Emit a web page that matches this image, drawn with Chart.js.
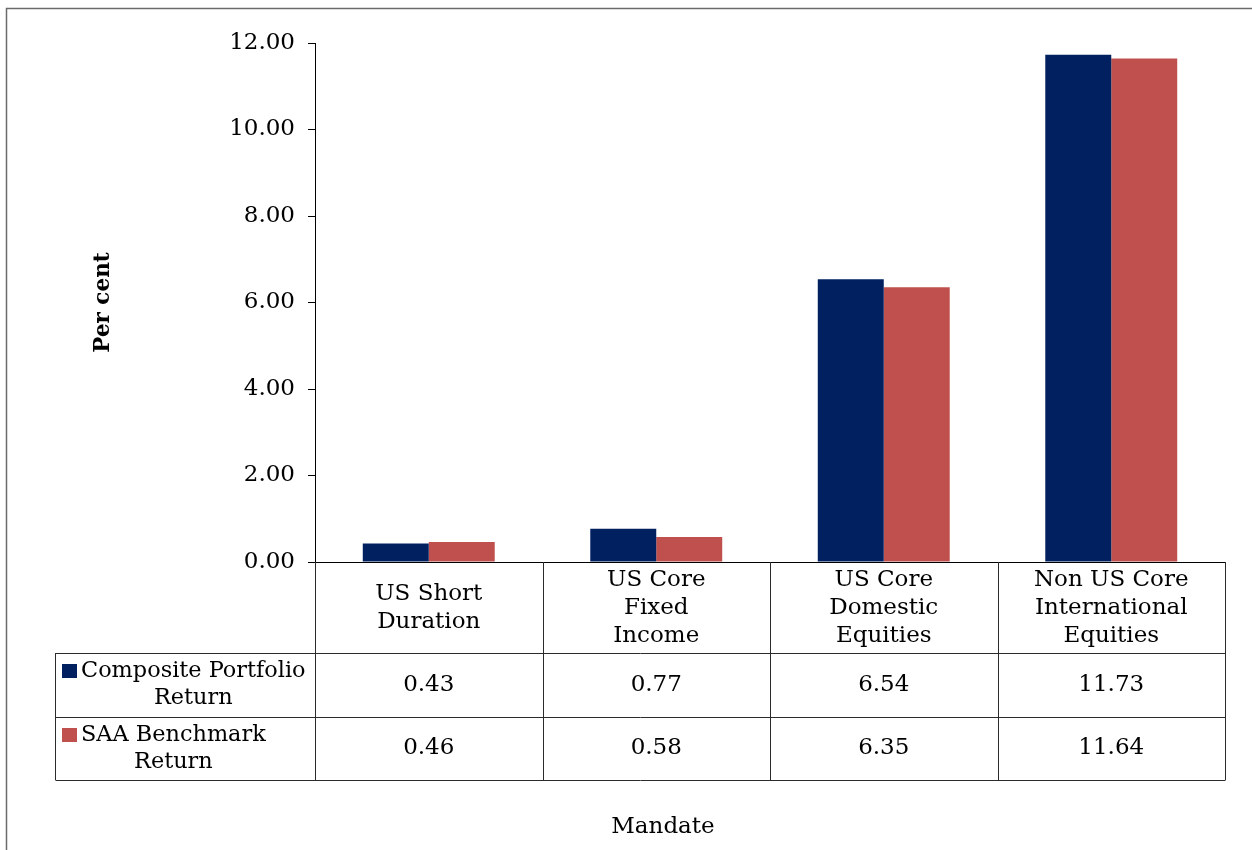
<!DOCTYPE html>
<html>
<head>
<meta charset="utf-8">
<title>Mandate returns</title>
<script src="https://cdn.jsdelivr.net/npm/chart.js@4/dist/chart.umd.min.js"></script>
<style>
  html, body { margin: 0; padding: 0; background: #fff; }
  #wrap { width: 1252px; height: 850px; }
</style>
</head>
<body>
<div id="wrap"><canvas id="c" width="1252" height="850"></canvas></div>
<script>
// Mandates (category labels, already split into display lines)
const categories = [
  ['US Short', 'Duration'],
  ['US Core', 'Fixed', 'Income'],
  ['US Core', 'Domestic', 'Equities'],
  ['Non US Core', 'International', 'Equities']
];
const seriesNames = ['Composite Portfolio Return', 'SAA Benchmark Return'];
const compositeReturn = [0.43, 0.77, 6.54, 11.73];
const benchmarkReturn = [0.46, 0.58, 6.35, 11.64];
const yTicks = [0, 2, 4, 6, 8, 10, 12];
const xTitle = 'Mandate';
const yTitle = 'Per cent';

const seriesColors = ['#002060', '#C0504D'];
const FONT = 'DejaVu Serif';
const TEXT_SIZE = 23;
Chart.defaults.font.family = FONT;
Chart.defaults.color = '#000';

// Frame around the chart (top and left edges)
const framePlugin = {
  id: 'frame',
  beforeDraw(chart) {
    const ctx = chart.ctx;
    ctx.save();
    ctx.fillStyle = '#fff';
    ctx.fillRect(0, 0, chart.width, chart.height);
    ctx.strokeStyle = '#6b6b6b';
    ctx.lineWidth = 1.5;
    ctx.beginPath();
    ctx.moveTo(chart.width, 8.5);
    ctx.lineTo(6.5, 8.5);
    ctx.lineTo(6.5, chart.height);
    ctx.stroke();
    ctx.restore();
  }
};

// Data table beneath the category axis, with legend keys in the row headers
const tablePlugin = {
  id: 'dataTable',
  afterDraw(chart) {
    const ctx = chart.ctx;
    const xs = chart.scales.x;
    const area = chart.chartArea;
    const headerBottom = area.bottom + 91;
    const rowH = 63.5;
    const tableLeft = 55.5;
    const rowTops = [headerBottom, headerBottom + rowH];
    const tableBottom = headerBottom + rowH * 2;
    const step = xs.getPixelForValue(1) - xs.getPixelForValue(0);
    const bounds = [];
    for (let i = 0; i < categories.length; i++) bounds.push(xs.getPixelForValue(i) - step / 2);
    bounds.push(xs.getPixelForValue(categories.length - 1) + step / 2);

    ctx.save();
    ctx.strokeStyle = '#2b2b2b';
    ctx.lineWidth = 1;
    ctx.beginPath();
    bounds.forEach((bx) => {
      const px = Math.round(bx) + 0.5;
      ctx.moveTo(px, area.bottom);
      ctx.lineTo(px, tableBottom);
    });
    ctx.moveTo(tableLeft, headerBottom);
    ctx.lineTo(tableLeft, tableBottom);
    [headerBottom, headerBottom + rowH, tableBottom].forEach((ry) => {
      const py = Math.round(ry) + 0.5;
      ctx.moveTo(tableLeft, py);
      ctx.lineTo(Math.round(area.right) + 0.5, py);
    });
    ctx.stroke();

    ctx.fillStyle = '#000';
    ctx.textBaseline = 'middle';
    const series = [compositeReturn, benchmarkReturn];
    const lineH = 27;
    const textLeft = 81;
    const maxW = Math.round(area.left) - textLeft - 2;
    series.forEach((vals, r) => {
      const cy = rowTops[r] + rowH / 2;
      // values
      ctx.font = TEXT_SIZE + 'px "' + FONT + '"';
      ctx.textAlign = 'center';
      vals.forEach((v, i) => {
        ctx.fillText(v.toFixed(2), xs.getPixelForValue(i), cy);
      });
      // row header: wrap the series name
      ctx.font = '22.4px "' + FONT + '"';
      const words = seriesNames[r].split(' ');
      const lines = [];
      let cur = '';
      words.forEach((w) => {
        const t = cur ? cur + ' ' + w : w;
        if (ctx.measureText(t).width > maxW && cur) { lines.push(cur); cur = w; } else cur = t;
      });
      lines.push(cur);
      const blockW = Math.max(...lines.map((l) => ctx.measureText(l).width));
      const firstY = cy - (lines.length - 1) * lineH / 2;
      lines.forEach((l, k) => {
        ctx.fillText(l, textLeft + blockW / 2, firstY + k * lineH);
      });
      ctx.fillStyle = seriesColors[r];
      ctx.fillRect(62, Math.round(firstY - 7), 15, 14);
      ctx.fillStyle = '#000';
    });

    ctx.font = TEXT_SIZE + 'px "' + FONT + '"';
    ctx.textAlign = 'center';
    ctx.fillText(xTitle, 663, 827);
    ctx.restore();
  }
};

new Chart(document.getElementById('c'), {
  type: 'bar',
  data: {
    labels: categories,
    datasets: [
      { label: seriesNames[0], data: compositeReturn, backgroundColor: seriesColors[0] },
      { label: seriesNames[1], data: benchmarkReturn, backgroundColor: seriesColors[1] }
    ]
  },
  options: {
    responsive: false,
    animation: false,
    devicePixelRatio: 1,
    layout: { padding: { left: 0, top: 43, right: 27, bottom: 0 } },
    datasets: { bar: { categoryPercentage: 0.58, barPercentage: 1.0 } },
    plugins: { legend: { display: false }, tooltip: { enabled: false } },
    scales: {
      x: {
        ticks: {
          font: { size: TEXT_SIZE, lineHeight: 28 / TEXT_SIZE },
          color: '#000',
          padding: 18,
          crossAlign: 'center',
          maxRotation: 0,
          autoSkip: false
        },
        grid: { display: false, drawTicks: false },
        border: { color: '#000', width: 1 },
        afterFit(s) { s.height = 288; }
      },
      y: {
        min: 0,
        max: 12,
        afterBuildTicks(s) { s.ticks = yTicks.map((v) => ({ value: v })); },
        ticks: {
          callback: (v) => Number(v).toFixed(2),
          font: { size: TEXT_SIZE },
          color: '#000',
          padding: 13
        },
        grid: { drawOnChartArea: false, drawTicks: true, tickLength: 7, color: '#000' },
        border: { color: '#000', width: 1 },
        title: {
          display: true,
          text: yTitle,
          color: '#000',
          font: { size: 21.5, weight: 'bold' },
          padding: { top: 91, bottom: 0 }
        },
        afterFit(s) { s.width = 315; }
      }
    }
  },
  plugins: [framePlugin, tablePlugin]
});
</script>
</body>
</html>
